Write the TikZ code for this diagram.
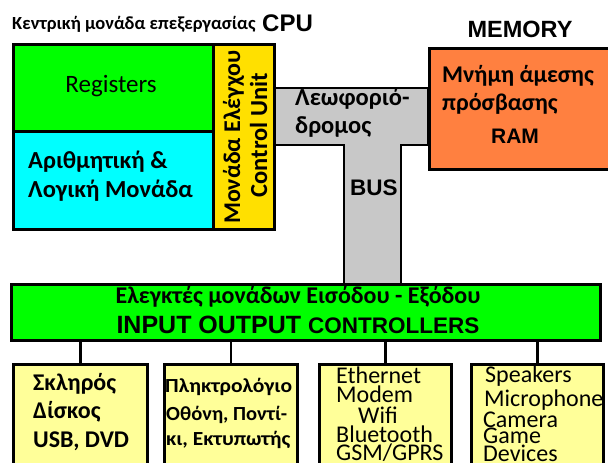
\documentclass[tikz,border=0pt]{standalone}
\usepackage{fontspec}
\setmainfont{Carlito}
\newfontfamily\arialf{Liberation Sans}
\newcommand\myfs[1]{\fontsize{#1}{#1}\selectfont}
\definecolor{cgreen}{RGB}{0,255,0}
\definecolor{ccyan}{RGB}{0,255,255}
\definecolor{cyellow}{RGB}{255,224,0}
\definecolor{corange}{RGB}{255,128,64}
\definecolor{cpale}{RGB}{255,255,153}
\definecolor{cgray}{RGB}{200,200,200}
\tikzset{
  blk/.style={draw=black, line width=2.6pt, inner sep=0pt, anchor=north west},
  txt/.style={inner sep=0pt, anchor=base west, text=black},
  link/.style={draw=black, line width=2.6pt}
}
\begin{document}
\begin{tikzpicture}[x=1pt, y=-1pt]
\useasboundingbox (0,0) rectangle (608,463);
\fill[white] (0,0) rectangle (608,463);
% bus (T shape)
\draw[fill=cgray, line width=2.6pt, line join=miter]
  (270,88) -- (428,88) -- (428,145) -- (401,145) -- (401,284) -- (344,284) -- (344,145) -- (270,145) -- cycle;
% CPU
\node[blk, fill=cgreen, minimum width=200pt, minimum height=87pt] (reg) at (12,43) {};
\node[blk, fill=ccyan, minimum width=200pt, minimum height=98pt] (alu) at (12,130) {};
\node[blk, fill=cyellow, minimum width=61pt, minimum height=185pt] (cu) at (212,43) {};
% RAM
\node[blk, fill=corange, minimum width=190pt, minimum height=121pt] (ram) at (428,47) {};
% IO controllers
\node[blk, fill=cgreen, minimum width=589pt, minimum height=56pt] (io) at (10,283) {};
% bottom boxes
\node[blk, fill=cpale, minimum width=134pt, minimum height=120pt] (b1) at (12,363) {};
\node[blk, fill=cpale, minimum width=133pt, minimum height=120pt] (b2) at (163,363) {};
\node[blk, fill=cpale, minimum width=132pt, minimum height=120pt] (b3) at (318,363) {};
\node[blk, fill=cpale, minimum width=132pt, minimum height=120pt] (b4) at (470,363) {};
\foreach \b in {b1,b2,b3,b4}{
  \draw[link] (\b.north) -- (\b.north |- io.south);
}
% titles
\node[txt] (t1) at (12,29) {\myfs{18.5}\bfseries Κεντρική μονάδα επεξεργασίας};
\node[txt] (t2) at (262,31) {\arialf\myfs{24}\bfseries CPU};
\node[txt, anchor=base] (t3) at (520,37) {\arialf\myfs{23.5}\bfseries MEMORY};
% CPU texts
\node[inner sep=0pt, anchor=base] (regt) at (111,92) {\myfs{25}Registers};
\node[txt] (alu1) at (28,168) {\myfs{24.5}\bfseries Αριθμητική \&};
\node[txt] (alu2) at (28,197) {\myfs{24.5}\bfseries Λογική Μονάδα};
\node[inner sep=0pt, anchor=base, rotate=90] (cu1) at (240,137) {\myfs{24}\bfseries Μονάδα Ελέγχου};
\node[inner sep=0pt, anchor=base, rotate=90] (cu2) at (267,135) {\myfs{24.5}\bfseries Control Unit};
% bus texts
\node[txt] (bus1) at (295,105) {\myfs{24.5}\bfseries Λεωφοριό-};
\node[txt] (bus2) at (295,133) {\myfs{24.5}\bfseries δρομος};
\node[txt] (bus3) at (350,195) {\arialf\myfs{22.5}\bfseries BUS};
% RAM texts
\node[txt] (ram1) at (442,82) {\myfs{24}\bfseries Μνήμη άμεσης};
\node[txt] (ram2) at (442,110) {\myfs{24}\bfseries πρόσβασης};
\node[inner sep=0pt, anchor=base] (ram3) at (515,143) {\arialf\myfs{21}\bfseries RAM};
% IO texts
\node[inner sep=0pt, anchor=base] (io1) at (298,303) {\myfs{24}\bfseries Ελεγκτές μονάδων Εισόδου - Εξόδου};
\node[inner sep=0pt, anchor=base] (io2) at (298,333) {\arialf\bfseries\myfs{25}INPUT OUTPUT \myfs{22.5}CONTROLLERS};
% box 1
\node[txt] (s1) at (33,390) {\myfs{24}\bfseries Σκληρός};
\node[txt] (s2) at (33,418) {\myfs{24}\bfseries Δίσκος};
\node[txt] (s3) at (33,447) {\myfs{24}\bfseries USB, DVD};
% box 2
\node[txt] (p1) at (165,392) {\resizebox{127pt}{\height}{\myfs{20}\bfseries Πληκτρολόγιο}};
\node[txt] (p2) at (166,420) {\resizebox{121pt}{\height}{\myfs{20}\bfseries Οθόνη, Ποντί-}};
\node[txt] (p3) at (166,445) {\resizebox{124pt}{\height}{\myfs{20}\bfseries κι, Εκτυπωτής}};
% box 3
\node[txt] (e1) at (336,383) {\myfs{24}Ethernet};
\node[txt] (e2) at (336,402) {\myfs{24}Modem};
\node[txt] (e3) at (358,423) {\myfs{24}Wifi};
\node[txt] (e4) at (336,442) {\myfs{24}Bluetooth};
\node[txt] (e5) at (336,460) {\myfs{24}GSM/GPRS};
% box 4
\node[txt] (m1) at (485,382) {\myfs{24}Speakers};
\node[txt] (m2) at (484,406) {\myfs{24}Microphone};
\node[txt] (m3) at (483,427) {\myfs{24}Camera};
\node[txt] (m4) at (483,443) {\myfs{24}Game};
\node[txt] (m5) at (483,461) {\myfs{24}Devices};
\end{tikzpicture}
\end{document}
